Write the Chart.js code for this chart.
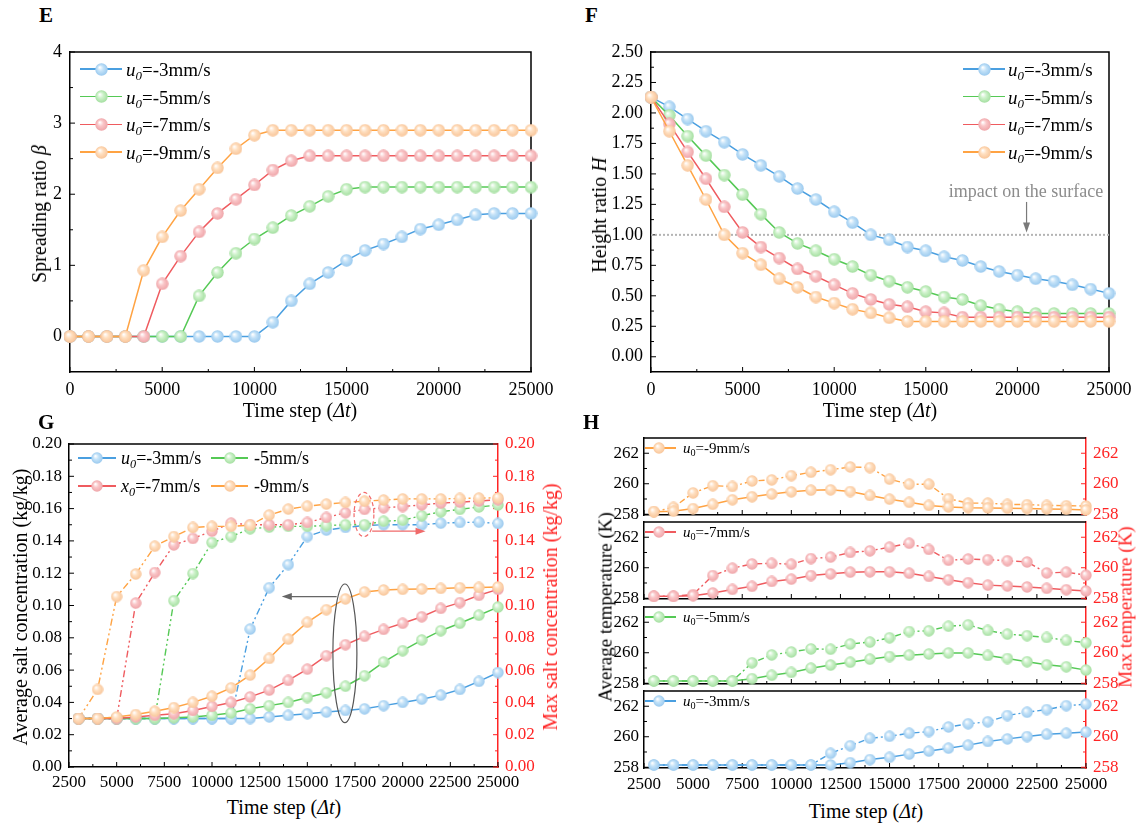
<!DOCTYPE html>
<html>
<head>
<meta charset="utf-8">
<script src="https://cdn.jsdelivr.net/npm/chart.js@4.4.1/dist/chart.umd.min.js"></script>
<style>
  body { margin: 0; width: 1144px; height: 828px; position: relative; overflow: hidden; background: #fff;
         font-family: 'Liberation Serif', 'Times New Roman', serif; }
  canvas { position: absolute; }
  .t { position: absolute; white-space: nowrap; color: #000; line-height: 1; }
  .lab { font-weight: bold; font-size: 21px; }
  .xt { font-size: 20px; transform: translateX(-50%); }
  .yt { font-size: 20px; transform: translate(-50%, -50%) rotate(-90deg); }
  sub { font-size: 0.68em; vertical-align: -0.35em; line-height: 0; }
</style>
</head>
<body>
<script>
// ==========================================
// DATA
// ==========================================
// panel E / F : time step 0..25000
const stepsEF = [0, 1000, 2000, 3000, 4000, 5000, 6000, 7000, 8000, 9000, 10000, 11000, 12000,
                 13000, 14000, 15000, 16000, 17000, 18000, 19000, 20000, 21000, 22000, 23000, 24000, 25000];

const spreadU3 = [0, 0, 0, 0, 0, 0, 0, 0, 0, 0, 0, 0.20, 0.50, 0.74, 0.90, 1.07, 1.21, 1.30, 1.40, 1.51, 1.57, 1.64, 1.71, 1.73, 1.73, 1.73];
const spreadU5 = [0, 0, 0, 0, 0, 0, 0, 0.57, 0.90, 1.17, 1.37, 1.53, 1.70, 1.83, 1.97, 2.07, 2.10, 2.10, 2.10, 2.10, 2.10, 2.10, 2.10, 2.10, 2.10, 2.10];
const spreadU7 = [0, 0, 0, 0, 0, 0.74, 1.13, 1.47, 1.73, 1.93, 2.13, 2.34, 2.47, 2.54, 2.54, 2.54, 2.54, 2.54, 2.54, 2.54, 2.54, 2.54, 2.54, 2.54, 2.54, 2.54];
const spreadU9 = [0, 0, 0, 0, 0.93, 1.40, 1.77, 2.07, 2.37, 2.64, 2.83, 2.90, 2.90, 2.90, 2.90, 2.90, 2.90, 2.90, 2.90, 2.90, 2.90, 2.90, 2.90, 2.90, 2.90, 2.90];

const heightU3 = [2.13, 2.05, 1.95, 1.85, 1.76, 1.66, 1.57, 1.48, 1.38, 1.29, 1.19, 1.10, 1.00, 0.96, 0.90, 0.87, 0.82, 0.79, 0.74, 0.70, 0.67, 0.64, 0.62, 0.59, 0.555, 0.52];
const heightU5 = [2.13, 1.98, 1.81, 1.65, 1.49, 1.33, 1.17, 1.02, 0.93, 0.87, 0.80, 0.74, 0.67, 0.62, 0.57, 0.535, 0.49, 0.47, 0.42, 0.39, 0.37, 0.355, 0.355, 0.355, 0.355, 0.355];
const heightU7 = [2.13, 1.91, 1.68, 1.46, 1.23, 1.02, 0.90, 0.81, 0.72, 0.66, 0.59, 0.52, 0.47, 0.43, 0.41, 0.37, 0.36, 0.325, 0.325, 0.325, 0.325, 0.325, 0.325, 0.325, 0.325, 0.325];
const heightU9 = [2.13, 1.85, 1.57, 1.29, 1.00, 0.85, 0.755, 0.64, 0.57, 0.49, 0.44, 0.39, 0.36, 0.32, 0.29, 0.29, 0.29, 0.29, 0.29, 0.29, 0.29, 0.29, 0.29, 0.29, 0.29, 0.29];
const impactLevel = 1.0;

// panel G / H : time step 3000..25000
const stepsGH = [3000, 4000, 5000, 6000, 7000, 8000, 9000, 10000, 11000, 12000, 13000, 14000,
                 15000, 16000, 17000, 18000, 19000, 20000, 21000, 22000, 23000, 24000, 25000];

const avgSaltU3 = [0.030, 0.030, 0.030, 0.030, 0.030, 0.030, 0.030, 0.030, 0.030, 0.030, 0.031, 0.032, 0.033, 0.034, 0.035, 0.036, 0.038, 0.040, 0.042, 0.0445, 0.048, 0.053, 0.0585];
const avgSaltU5 = [0.030, 0.030, 0.030, 0.030, 0.030, 0.0305, 0.031, 0.032, 0.0335, 0.036, 0.038, 0.040, 0.043, 0.046, 0.050, 0.0565, 0.065, 0.072, 0.0786, 0.0844, 0.089, 0.094, 0.099];
const avgSaltU7 = [0.030, 0.030, 0.030, 0.031, 0.032, 0.033, 0.035, 0.0375, 0.040, 0.0434, 0.0476, 0.0536, 0.0606, 0.0689, 0.0757, 0.0809, 0.0852, 0.089, 0.093, 0.0982, 0.1018, 0.1063, 0.110];
const avgSaltU9 = [0.030, 0.030, 0.031, 0.0325, 0.0345, 0.0368, 0.040, 0.0438, 0.049, 0.0569, 0.0672, 0.0792, 0.0896, 0.0974, 0.1041, 0.1084, 0.1096, 0.110, 0.1102, 0.1106, 0.111, 0.1112, 0.1115];

const maxSaltU3 = [0.030, 0.030, 0.030, 0.030, 0.030, 0.030, 0.030, 0.030, 0.030, 0.0854, 0.111, 0.1253, 0.1427, 0.1467, 0.1483, 0.1495, 0.150, 0.150, 0.150, 0.151, 0.1514, 0.1516, 0.1508];
const maxSaltU5 = [0.030, 0.030, 0.030, 0.030, 0.030, 0.103, 0.1198, 0.139, 0.1427, 0.1475, 0.1485, 0.149, 0.149, 0.1495, 0.150, 0.150, 0.1522, 0.1528, 0.1556, 0.158, 0.1595, 0.161, 0.1622];
const maxSaltU7 = [0.030, 0.030, 0.030, 0.1015, 0.1204, 0.1375, 0.1415, 0.146, 0.151, 0.150, 0.150, 0.150, 0.1514, 0.1545, 0.1574, 0.1595, 0.1605, 0.1613, 0.1623, 0.1634, 0.164, 0.1647, 0.1655];
const maxSaltU9 = [0.030, 0.048, 0.1055, 0.1195, 0.1367, 0.1427, 0.1483, 0.149, 0.149, 0.1497, 0.156, 0.1597, 0.1615, 0.1628, 0.1638, 0.1646, 0.1653, 0.166, 0.166, 0.166, 0.1663, 0.1665, 0.1667];

const avgTempU9 = [258.17, 258.2, 258.37, 258.65, 258.95, 259.15, 259.32, 259.47, 259.58, 259.6, 259.49, 259.23, 258.99, 258.78, 258.58, 258.48, 258.43, 258.41, 258.39, 258.37, 258.35, 258.32, 258.28];
const maxTempU9 = [258.17, 258.45, 259.4, 259.87, 259.82, 260.18, 260.25, 260.53, 260.75, 260.92, 261.1, 261.06, 260.3, 259.97, 259.97, 259.02, 258.73, 258.73, 258.65, 258.63, 258.58, 258.56, 258.54];
const avgTempU7 = [258.13, 258.13, 258.17, 258.35, 258.58, 258.78, 259.1, 259.25, 259.49, 259.6, 259.71, 259.73, 259.73, 259.64, 259.43, 259.21, 259.02, 258.86, 258.8, 258.74, 258.65, 258.56, 258.48];
const maxTempU7 = [258.13, 258.13, 258.24, 259.49, 259.97, 260.25, 260.29, 260.23, 260.6, 260.7, 261.0, 261.11, 261.35, 261.61, 261.2, 260.49, 260.57, 260.53, 260.46, 260.38, 259.66, 259.71, 259.51];
const avgTempU5 = [258.15, 258.15, 258.15, 258.15, 258.15, 258.3, 258.52, 258.71, 258.99, 259.19, 259.38, 259.58, 259.75, 259.84, 259.92, 259.99, 259.99, 259.82, 259.62, 259.41, 259.21, 259.08, 258.86];
const maxTempU5 = [258.15, 258.15, 258.15, 258.15, 258.15, 259.34, 259.86, 260.05, 260.25, 260.23, 260.57, 260.7, 260.98, 261.39, 261.44, 261.74, 261.83, 261.46, 261.22, 261.12, 261.0, 260.81, 260.66];
const avgTempU3 = [258.15, 258.15, 258.15, 258.15, 258.15, 258.15, 258.15, 258.15, 258.15, 258.15, 258.3, 258.5, 258.65, 258.86, 259.06, 259.25, 259.45, 259.69, 259.86, 260.01, 260.16, 260.23, 260.31];
const maxTempU3 = [258.15, 258.15, 258.15, 258.15, 258.15, 258.15, 258.15, 258.15, 258.15, 258.91, 259.41, 259.9, 260.03, 260.23, 260.34, 260.64, 260.85, 260.98, 261.39, 261.61, 261.78, 262.04, 262.13];

// tick labels
const ticksEFx = [0, 5000, 10000, 15000, 20000, 25000];
const ticksEy = [0, 1, 2, 3, 4];
const ticksFy = [0, 0.25, 0.5, 0.75, 1.0, 1.25, 1.5, 1.75, 2.0, 2.25, 2.5];
const ticksGHx = [2500, 5000, 7500, 10000, 12500, 15000, 17500, 20000, 22500, 25000];
const ticksGy = [0, 0.02, 0.04, 0.06, 0.08, 0.10, 0.12, 0.14, 0.16, 0.18, 0.20];
const ticksHy = [258, 260, 262];

// annotation marks of panel F and G (data units)
const impactArrow = { x: 20500, from: 1.27, to: 1.02 };
const maxRing = { x: 17970, lo: 0.1427, hi: 0.170, half: 520 };
const maxArrow = { from: 18400, to: 21200, y: 0.146 };
const avgRing = { x: 16970, lo: 0.0275, hi: 0.1133, half: 630 };
const avgArrow = { from: 16540, to: 13660, y: 0.1055 };

// ==========================================
// STYLE HELPERS
// ==========================================
const FONT = "'Liberation Serif', 'Times New Roman', serif";
Chart.defaults.font.family = FONT;
Chart.defaults.color = '#000';
const RED_AX = '#ff2424';

const COL = {
  u3: { line: '#4a9fe0', base: '#c3e2f8', rim: '#98c8ee' },
  u5: { line: '#55c955', base: '#cdf2ca', rim: '#a2de9e' },
  u7: { line: '#ef5b5f', base: '#fac6c8', rim: '#eea3a7' },
  u9: { line: '#ffa343', base: '#ffdfc0', rim: '#f8c497' }
};

function ball(c, d) {
  const cv = document.createElement('canvas');
  cv.width = d; cv.height = d;
  const g = cv.getContext('2d');
  const r = d / 2;
  const gr = g.createRadialGradient(r * 0.72, r * 0.66, r * 0.05, r, r, r);
  gr.addColorStop(0, '#ffffff');
  gr.addColorStop(0.42, c.base);
  gr.addColorStop(1, c.rim);
  g.fillStyle = gr;
  g.beginPath(); g.arc(r, r, r - 0.3, 0, Math.PI * 2); g.fill();
  return cv;
}

function mkCanvas(left, top, w, h) {
  const c = document.createElement('canvas');
  c.width = w; c.height = h;
  c.style.left = left + 'px'; c.style.top = top + 'px';
  document.body.appendChild(c);
  return c;
}

function text(html, cls, left, top, extra) {
  const d = document.createElement('div');
  d.className = 't ' + cls;
  d.innerHTML = html;
  d.style.left = left + 'px'; d.style.top = top + 'px';
  if (extra) Object.assign(d.style, extra);
  document.body.appendChild(d);
  return d;
}

function legend(x0, y, lineW, ballX, textX, c, d, html, size) {
  const ln = document.createElement('div');
  ln.style.cssText = `position:absolute;left:${x0}px;top:${y - 0.75}px;width:${lineW}px;height:1.5px;background:${c.line}`;
  document.body.appendChild(ln);
  const b = ball(c, d);
  b.style.left = (ballX - d / 2) + 'px'; b.style.top = (y - d / 2) + 'px';
  document.body.appendChild(b);
  text(html, '', textX, y, { fontSize: size + 'px', transform: 'translateY(-50%)' });
}

const mids = arr => arr.slice(1).map((v, i) => (v + arr[i]) / 2);

function axis(pos, min, max, ticks, fit, fmt, color, size, show = true, pad = 7) {
  const vertical = pos === 'left' || pos === 'right';
  return {
    type: 'linear', position: pos, min: min, max: max,
    afterBuildTicks: s => { s.ticks = ticks.map(v => ({ value: v })); },
    afterFit: s => { if (vertical) s.width = fit; else s.height = fit; },
    grid: { display: true, drawOnChartArea: false, drawTicks: false },
    border: { display: true, color: color, width: 1.5 },
    ticks: { display: show, autoSkip: false, maxRotation: 0, padding: pad, color: color,
             font: { family: FONT, size: size }, callback: fmt }
  };
}

// inner tick marks + top/right frame
function frameTicks(spec) {
  return {
    id: 'frameTicks',
    beforeDatasetsDraw(chart) {
      const { ctx, chartArea: a, scales } = chart;
      ctx.save();
      ctx.lineWidth = 1.5; ctx.strokeStyle = '#000';
      ctx.beginPath(); ctx.moveTo(a.left, a.top); ctx.lineTo(a.right, a.top);
      if (!scales.y2) ctx.lineTo(a.right, a.bottom);
      ctx.stroke();
      ctx.lineWidth = 1;
      const mark = (list, len, fn) => list.forEach(v => { ctx.beginPath(); fn(v, len); ctx.stroke(); });
      const xs = (v, len) => { const p = scales.x.getPixelForValue(v); ctx.moveTo(p, a.bottom); ctx.lineTo(p, a.bottom - len); };
      const ys = (v, len) => { const p = scales.y.getPixelForValue(v); ctx.moveTo(a.left, p); ctx.lineTo(a.left + len, p); };
      mark(spec.x, 5, xs); mark(mids(spec.x), 3, xs);
      mark(spec.y, 5, ys); mark(mids(spec.y), 3, ys);
      if (scales.y2) {
        ctx.strokeStyle = RED_AX;
        const y2s = (v, len) => { const p = scales.y2.getPixelForValue(v); ctx.moveTo(a.right, p); ctx.lineTo(a.right - len, p); };
        mark(spec.y, 5, y2s); mark(mids(spec.y), 3, y2s);
      }
      ctx.restore();
    }
  };
}

function arrow(ctx, x1, y1, x2, y2, color) {
  const ang = Math.atan2(y2 - y1, x2 - x1);
  ctx.strokeStyle = color; ctx.fillStyle = color; ctx.lineWidth = 1.2; ctx.setLineDash([]);
  ctx.beginPath(); ctx.moveTo(x1, y1); ctx.lineTo(x2 - 8 * Math.cos(ang), y2 - 8 * Math.sin(ang)); ctx.stroke();
  ctx.beginPath();
  ctx.moveTo(x2, y2);
  ctx.lineTo(x2 - 10 * Math.cos(ang) + 3.5 * Math.sin(ang), y2 - 10 * Math.sin(ang) - 3.5 * Math.cos(ang));
  ctx.lineTo(x2 - 10 * Math.cos(ang) - 3.5 * Math.sin(ang), y2 - 10 * Math.sin(ang) + 3.5 * Math.cos(ang));
  ctx.closePath(); ctx.fill();
}

function series(steps, vals, c, d, extra) {
  return Object.assign({
    data: steps.map((s, i) => ({ x: s, y: vals[i] })),
    borderColor: c.line, borderWidth: 1.5, pointStyle: ball(c, d), pointRadius: 6,
    clip: false, tension: 0, fill: false
  }, extra || {});
}

const baseOpts = (padding, scales) => ({
  responsive: false, animation: false, events: [],
  layout: { padding: padding },
  plugins: { legend: { display: false }, tooltip: { enabled: false } },
  scales: scales
});

const legendName = v => `<i>u</i><sub><i>0</i></sub>=-${v}mm/s`;

// ==========================================
// PANEL E : spreading ratio   (plot box 70..531 x 52..372)
// ==========================================
new Chart(mkCanvas(0, 27, 566, 413), {
  type: 'line',
  data: { datasets: [
    series(stepsEF, spreadU3, COL.u3, 13, { order: 4 }),
    series(stepsEF, spreadU5, COL.u5, 13, { order: 3 }),
    series(stepsEF, spreadU7, COL.u7, 13, { order: 2 }),
    series(stepsEF, spreadU9, COL.u9, 13, { order: 1 })
  ] },
  options: baseOpts({ top: 25, right: 35 }, {
    x: axis('bottom', 0, 25000, ticksEFx, 68, v => String(v), '#000', 18),
    y: axis('left', -0.5, 4, ticksEy, 70, v => String(v), '#000', 18, true, 8)
  }),
  plugins: [frameTicks({ x: ticksEFx, y: ticksEy })]
});
text('E', 'lab', 39, 5);
text('Time step (<i>Δt</i>)', 'xt', 300, 400);
text('Spreading ratio <i>β</i>', 'yt', 39, 214);
[['3', COL.u3], ['5', COL.u5], ['7', COL.u7], ['9', COL.u9]].forEach(([v, c], i) => {
  legend(80, 69 + i * 27.7, 42, 101, 126, c, 13, legendName(v), 19);
});

// ==========================================
// PANEL F : height ratio   (plot box 651..1109 x 52..372)
// ==========================================
new Chart(mkCanvas(570, 27, 574, 413), {
  type: 'line',
  data: { datasets: [
    { data: [{ x: 0, y: impactLevel }, { x: 25000, y: impactLevel }], borderColor: '#b4b4b4', borderWidth: 2,
      borderDash: [2, 2], pointRadius: 0, order: 9 },
    series(stepsEF, heightU3, COL.u3, 13, { order: 4 }),
    series(stepsEF, heightU5, COL.u5, 13, { order: 3 }),
    series(stepsEF, heightU7, COL.u7, 13, { order: 2 }),
    series(stepsEF, heightU9, COL.u9, 13, { order: 1 })
  ] },
  options: baseOpts({ top: 25, right: 35 }, {
    x: axis('bottom', 0, 25000, ticksEFx, 68, v => String(v), '#000', 18),
    y: axis('left', -0.125, 2.5, ticksFy, 81, v => v.toFixed(2), '#000', 18, true, 8)
  }),
  plugins: [frameTicks({ x: ticksEFx, y: ticksFy }), {
    id: 'impact',
    afterDatasetsDraw(chart) {
      const { ctx, scales } = chart;
      const px = scales.x.getPixelForValue(impactArrow.x);
      ctx.save();
      arrow(ctx, px, scales.y.getPixelForValue(impactArrow.from), px, scales.y.getPixelForValue(impactArrow.to), '#7a7a7a');
      ctx.restore();
    }
  }]
});
text('F', 'lab', 585, 5);
text('Time step (<i>Δt</i>)', 'xt', 880, 400);
text('Height ratio <i>H</i>', 'yt', 599, 215);
text('impact on the surface', '', 1026, 191, { fontSize: '18px', color: '#8c8c8c', transform: 'translate(-50%, -50%)' });
[['3', COL.u3], ['5', COL.u5], ['7', COL.u7], ['9', COL.u9]].forEach(([v, c], i) => {
  legend(963, 69 + i * 27.7, 42, 984, 1008, c, 13, legendName(v), 19);
});

// ==========================================
// PANEL G : salt concentration   (plot box 69..498 x 444..767)
// ==========================================
const dashG = { borderDash: [7, 3, 2, 3, 2, 3], borderWidth: 1.4, yAxisID: 'y2' };
new Chart(mkCanvas(0, 419, 570, 371), {
  type: 'line',
  data: { datasets: [
    series(stepsGH, maxSaltU3, COL.u3, 12, Object.assign({ order: 8 }, dashG)),
    series(stepsGH, maxSaltU5, COL.u5, 12, Object.assign({ order: 7 }, dashG)),
    series(stepsGH, maxSaltU7, COL.u7, 12, Object.assign({ order: 6 }, dashG)),
    series(stepsGH, maxSaltU9, COL.u9, 12, Object.assign({ order: 5 }, dashG)),
    series(stepsGH, avgSaltU3, COL.u3, 12, { order: 4 }),
    series(stepsGH, avgSaltU5, COL.u5, 12, { order: 3 }),
    series(stepsGH, avgSaltU7, COL.u7, 12, { order: 2 }),
    series(stepsGH, avgSaltU9, COL.u9, 12, { order: 1 })
  ] },
  options: baseOpts({ top: 25 }, {
    x: axis('bottom', 2500, 25000, ticksGHx, 23, v => String(v), '#000', 17, true, 5),
    y: axis('left', 0, 0.2, ticksGy, 69, v => v.toFixed(2), '#000', 17),
    y2: axis('right', 0, 0.2, ticksGy, 72, v => v.toFixed(2), RED_AX, 17)
  }),
  plugins: [frameTicks({ x: ticksGHx, y: ticksGy }), {
    id: 'rings',
    afterDatasetsDraw(chart) {
      const { ctx, scales } = chart;
      const X = v => scales.x.getPixelForValue(v), Y = v => scales.y.getPixelForValue(v);
      const ring = (r, color, dash) => {
        ctx.strokeStyle = color; ctx.lineWidth = 1.2; ctx.setLineDash(dash);
        ctx.beginPath();
        ctx.ellipse(X(r.x), (Y(r.lo) + Y(r.hi)) / 2, X(r.x + r.half) - X(r.x), (Y(r.lo) - Y(r.hi)) / 2, 0, 0, Math.PI * 2);
        ctx.stroke();
      };
      ctx.save();
      ring(maxRing, '#f26b6b', [4, 3]);
      arrow(ctx, X(maxArrow.from), Y(maxArrow.y), X(maxArrow.to), Y(maxArrow.y), '#f06a6a');
      ring(avgRing, '#555', []);
      arrow(ctx, X(avgArrow.from), Y(avgArrow.y), X(avgArrow.to), Y(avgArrow.y), '#666');
      ctx.restore();
    }
  }]
});
text('G', 'lab', 38, 412);
text('Time step (<i>Δt</i>)', 'xt', 284, 797);
text('Average salt concentration (kg/kg)', 'yt', 20, 607);
text('Max salt concentration (kg/kg)', 'yt', 550, 607, { color: RED_AX });
legend(78, 458, 38, 97, 121, COL.u3, 12, legendName('3'), 18);
legend(211, 458, 37, 229.5, 254, COL.u5, 12, '-5mm/s', 18);
legend(78, 486, 38, 97, 121, COL.u7, 12, `<i>x</i><sub><i>0</i></sub>=-7mm/s`, 18);
legend(211, 486, 37, 229.5, 254, COL.u9, 12, '-9mm/s', 18);

// ==========================================
// PANEL H : temperature (4 stacked plots, box 644..1086)
// ==========================================
const subTops = [438, 522, 607, 691];
const subH = 77;
const subs = [
  { v: '9', c: COL.u9, avg: avgTempU9, max: maxTempU9 },
  { v: '7', c: COL.u7, avg: avgTempU7, max: maxTempU7 },
  { v: '5', c: COL.u5, avg: avgTempU5, max: maxTempU5 },
  { v: '3', c: COL.u3, avg: avgTempU3, max: maxTempU3 }
];
subs.forEach((s, i) => {
  const last = i === subs.length - 1;
  const xh = last ? 26 : 20;
  new Chart(mkCanvas(570, subTops[i] - 20, 566, 20 + subH + xh), {
    type: 'line',
    data: { datasets: [
      series(stepsGH, s.max, s.c, 12, { borderDash: [6, 3, 2, 3], borderWidth: 1.4, yAxisID: 'y2', order: 2 }),
      series(stepsGH, s.avg, s.c, 12, { order: 1 })
    ] },
    options: baseOpts({ top: 20 }, {
      x: axis('bottom', 2500, 25000, ticksGHx, xh, v => String(v), '#000', 17, last, 6),
      y: axis('left', 257.95, 263, ticksHy, 74, v => String(v), '#000', 17, true, 5),
      y2: axis('right', 257.95, 263, ticksHy, 50, v => String(v), RED_AX, 17, true, 7)
    }),
    plugins: [frameTicks({ x: ticksGHx, y: ticksHy })]
  });
  legend(645, subTops[i] + 10, 31, 659, 683, s.c, 12, `<i>u</i><sub>0</sub>=-${s.v}mm/s`, 15);
});
text('H', 'lab', 583, 412);
text('Time step (<i>Δt</i>)', 'xt', 866, 801);
text('Average temperature (K)', 'yt', 605, 607, { fontSize: '19px' });
text('Max temperature (K)', 'yt', 1125, 607, { fontSize: '19px', color: RED_AX });
</script>
</body>
</html>
